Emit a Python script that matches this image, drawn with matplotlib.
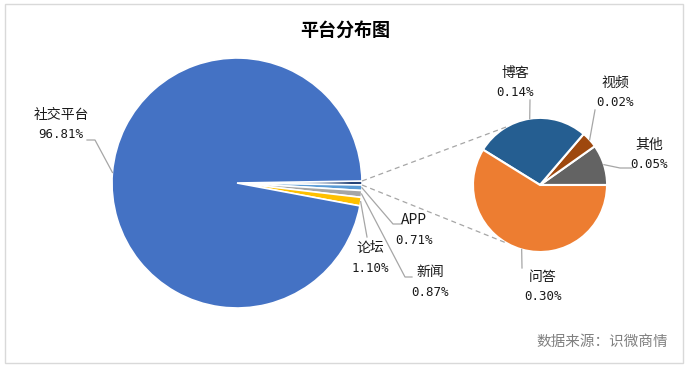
import numpy as np
import matplotlib
matplotlib.use('Agg')
import matplotlib.pyplot as plt
from matplotlib.patches import Rectangle

# sub pie: breakdown of the "其他" slice of the main pie
sub_labels = ['其他', '视频', '博客', '问答']
sub_values = [0.05, 0.02, 0.14, 0.30]
# main pie (first entry is the aggregate shown in the sub pie)
main_labels = ['其他', 'APP', '新闻', '论坛', '社交平台']
main_values = [sum(sub_values), 0.71, 0.87, 1.10, 96.81]

main_colors = ['#264478', '#5B9BD5', '#A5A5A5', '#FFC000', '#4472C4']
sub_colors = ['#636363', '#9E480E', '#255E91', '#ED7D31']

CJK = ['Noto Sans CJK SC', 'DejaVu Sans']
NUM = ['DejaVu Sans Mono', 'Noto Sans CJK SC']
TXT = '#1a1a1a'
LINE = '#A6A6A6'

fig = plt.figure(figsize=(6.9, 3.68), dpi=100)
ax = fig.add_axes([0, 0, 1, 1])

# main pie
main_c, main_r = (237, 185), 125
agg_deg = main_values[0] / sum(main_values) * 360
main_wedges, _ = ax.pie(main_values, colors=main_colors, center=main_c, radius=main_r,
                        startangle=agg_deg / 2, counterclock=False,
                        explode=[0.06, 0.06, 0.06, 0.06, 0],
                        wedgeprops=dict(edgecolor='white', linewidth=1.2))

# sub pie
sub_c, sub_r = (540, 183), 67
sub_wedges, _ = ax.pie(sub_values, colors=sub_colors, center=sub_c, radius=sub_r,
                       startangle=0, counterclock=True,
                       explode=[0.1, 0.17, 0.1, 0],
                       wedgeprops=dict(edgecolor='white', linewidth=1.5))


def edge_point(w, ang):
    cx, cy = w.center
    a = np.radians(ang)
    return cx + w.r * np.cos(a), cy + w.r * np.sin(a)


# dashed connectors from aggregate slice to sub pie
agg = main_wedges[0]
p_top = edge_point(agg, agg.theta2)
p_bot = edge_point(agg, agg.theta1)
q_top = edge_point(sub_wedges[2], 120)
q_bot = edge_point(sub_wedges[3], 240)
for p, q in [(p_top, q_top), (p_bot, q_bot)]:
    ax.plot([p[0], q[0]], [p[1], q[1]], color=LINE, lw=0.9, ls=(0, (4, 3)))

# label layout: name position, leader elbow points
main_lbl = {
    '社交平台': ((61, 253), [(95, 228), (87, 228)]),
    '论坛': ((370, 120), [(367, 131)]),
    '新闻': ((430, 96), [(405, 91), (412, 91)]),
    'APP': ((414, 148), [(393, 144), (402, 144)]),
}
sub_lbl = {
    '博客': ((515, 295), [(530, 268)]),
    '视频': ((615, 285), [(595, 258)]),
    '其他': ((649, 223), [(620, 200), (632, 200)]),
    '问答': ((543, 91), [(522, 100)]),
}


def put_labels(wedges, labels, values, layout):
    for w, name, v in zip(wedges, labels, values):
        if name not in layout:
            continue
        (tx, ty), elbow = layout[name]
        mid = (w.theta1 + w.theta2) / 2
        pts = [edge_point(w, mid)] + elbow
        ax.plot([p[0] for p in pts], [p[1] for p in pts], color=LINE, lw=0.9)
        ax.text(tx, ty, name, ha='center', va='center', fontsize=10,
                family=CJK, color=TXT)
        ax.text(tx, ty - 20, f'{v:.2f}%', ha='center', va='center',
                fontsize=9, family=NUM, color=TXT)


put_labels(main_wedges, main_labels, main_values, main_lbl)
put_labels(sub_wedges, sub_labels, sub_values, sub_lbl)

ax.text(345, 338, '平台分布图', ha='center', va='center', fontsize=13,
        fontweight='bold', family=CJK, color='#000000')
ax.text(668, 26, '数据来源：识微商情', ha='right', va='center', fontsize=10.5,
        family=CJK, color='#808080')

ax.add_patch(Rectangle((5, 5), 678, 359, fill=False, edgecolor='#D9D9D9', lw=1))

ax.set_xlim(0, 690)
ax.set_ylim(0, 368)
ax.set_aspect('equal')
ax.axis('off')

fig.savefig('out.png', dpi=100, facecolor='white')
